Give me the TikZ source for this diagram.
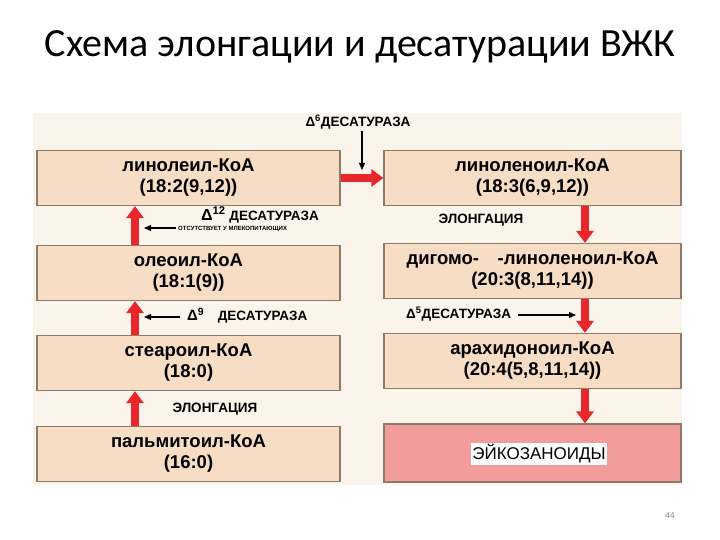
\documentclass[tikz,border=0pt]{standalone}
\usepackage{fontspec}
\setmainfont{Liberation Sans}
\newfontfamily\titlefont{Carlito}
\usetikzlibrary{arrows.meta}
\definecolor{boxfill}{HTML}{F6DDC3}
\definecolor{boxline}{HTML}{8C7B6B}
\definecolor{panel}{HTML}{FBF4EA}
\definecolor{redarr}{HTML}{E8262B}
\definecolor{pinkfill}{HTML}{F39C9C}
\begin{document}
\begin{tikzpicture}[x=1pt,y=-1pt,
  box/.style={draw=boxline,line width=1.2pt,fill=boxfill,minimum width=303pt,minimum height=55pt,font=\bfseries\fontsize{18.5}{21}\selectfont,align=center,inner sep=0pt},
  big/.style={line width=8pt,redarr,-{Triangle[width=17pt,length=12pt]}},
  thin/.style={line width=1.3pt,black,-{Triangle[width=6pt,length=7pt]}},
  lbl/.style={font=\bfseries\fontsize{13.5}{15}\selectfont,inner sep=1pt}]
\useasboundingbox (0,0) rectangle (720,540);
\fill[white] (0,0) rectangle (720,540);
\node[font=\titlefont\fontsize{40}{43}\selectfont] (title) at (360,47) {Схема элонгации и десатурации ВЖК};
\fill[panel] (33,113) rectangle (682,485);
\node[box] (l1) at (188.5,178) {линолеил-КоА\\(18:2(9,12))};
\node[box] (l2) at (188.5,273) {олеоил-КоА\\(18:1(9))};
\node[box] (l3) at (188.5,363) {стеароил-КоА\\(18:0)};
\node[box] (l4) at (188.5,454) {пальмитоил-КоА\\(16:0)};
\node[box,minimum width=297pt] (r1) at (532.5,178) {линоленоил-КоА\\(18:3(6,9,12))};
\node[box,minimum width=297pt] (r2) at (532.5,271) {дигомо-\quad-линоленоил-КоА\\(20:3(8,11,14))};
\node[box,minimum width=297pt] (r3) at (532.5,361) {арахидоноил-КоА\\(20:4(5,8,11,14))};
\node[box,minimum width=297pt,minimum height=58pt,fill=pinkfill] (r4) at (532.5,453) {};
\node[fill=white,font=\fontsize{17}{19}\selectfont,inner sep=1.5pt] (eik) at (539,454) {ЭЙКОЗАНОИДЫ};
% red flows
\draw[big] (l4.north -| 135,0) -- (l3.south -| 135,0);
\draw[big] (l3.north -| 135,0) -- (l2.south -| 135,0);
\draw[big] (l2.north -| 135,0) -- (l1.south -| 135,0);
\draw[big] (l1.east) -- (r1.west);
\draw[big] (r1.south -| 585,0) -- (r2.north -| 585,0);
\draw[big] (r2.south -| 585,0) -- (r3.north -| 585,0);
\draw[big] (r3.south -| 585,0) -- (r4.north -| 585,0);
% labels
\node[lbl] (d6) at (358,122) {Δ\textsuperscript{6}ДЕСАТУРАЗА};
\coordinate (d6t) at (362,170);
\draw[thin] (362,131) -- (d6t);
\node[lbl,anchor=west] (d12) at (200,215) {{\fontsize{16}{16}\selectfont Δ\textsuperscript{12}} ДЕСАТУРАЗА};
\node[font=\bfseries\fontsize{6}{7}\selectfont,inner sep=0,anchor=west] (abs) at (178,229) {ОТСУТСТВУЕТ У МЛЕКОПИТАЮЩИХ};
\coordinate (a12) at (144,228);
\draw[thin] (176,228) -- (a12);
\node[lbl,anchor=west] (d9) at (186,316) {{\fontsize{15}{15}\selectfont Δ\textsuperscript{9}}\quad ДЕСАТУРАЗА};
\coordinate (a9) at (144,317);
\draw[thin] (180,317) -- (a9);
\node[lbl] (el1) at (215,409) {ЭЛОНГАЦИЯ};
\node[lbl] (el2) at (481,220) {ЭЛОНГАЦИЯ};
\node[lbl,anchor=west] (d5) at (405,314) {Δ\textsuperscript{5}ДЕСАТУРАЗА};
\coordinate (a5) at (576,315);
\draw[thin] (d5.east)++(6,1) -- (a5);
\node[font=\titlefont\fontsize{9}{10}\selectfont,text=gray] (pg) at (670,516) {44};
\end{tikzpicture}
\end{document}
